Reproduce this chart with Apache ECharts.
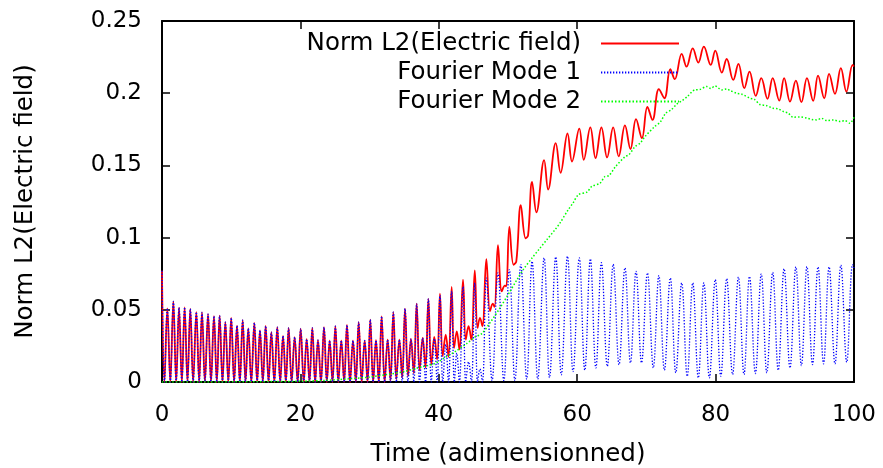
<!DOCTYPE html>
<html>
<head>
<meta charset="utf-8">
<title>Norm L2(Electric field)</title>
<script src="https://cdn.jsdelivr.net/npm/echarts@6/dist/echarts.min.js"></script>
<style>
html, body { margin: 0; padding: 0; background: #fff; }
#chart { width: 883px; height: 468px; }
</style>
</head>
<body>
<div id="chart"></div>
<script>
// ticks of both axes
var timeTicks = [0, 20, 40, 60, 80, 100];
var normTicks = [0, 0.05, 0.1, 0.15, 0.2, 0.25];

// [time, value] (peaks and troughs)
var normL2 = [
  [0, 0.077], [0.35, 0], [0.77, 0.051], [1.2, 0], [1.64, 0.0559], [2.05, 0], [2.46, 0.0515], [2.87, 0],
  [3.27, 0.0517], [3.68, 0], [4.09, 0.0506], [4.5, 0], [4.96, 0.0484], [5.37, 0], [5.78, 0.0482], [6.2, 0],
  [6.65, 0.047], [7.08, 0], [7.51, 0.0456], [7.92, 0], [8.33, 0.046], [8.74, 0], [9.15, 0.0415], [9.58, 0],
  [10.0, 0.0444], [10.42, 0], [10.84, 0.039], [11.25, 0], [11.66, 0.0428], [12.07, 0], [12.47, 0.0371], [12.9, 0],
  [13.34, 0.041], [13.75, 0], [14.16, 0.0358], [14.57, 0], [14.98, 0.0388], [15.4, 0], [15.8, 0.0346], [16.23, 0],
  [16.66, 0.038], [17.08, 0], [17.49, 0.032], [17.9, 0], [18.3, 0.0375], [18.73, 0], [19.17, 0.0311], [19.6, 0],
  [20.04, 0.037], [20.48, 0], [20.91, 0.0297], [21.31, 0], [21.72, 0.0375], [22.13, 0], [22.54, 0.029], [22.97, 0],
  [23.41, 0.0379], [23.82, 0], [24.23, 0.0287], [24.64, 0], [25.05, 0.0386], [25.48, 0], [25.91, 0.0287], [26.32, 0],
  [26.73, 0.0395], [27.17, 0], [27.6, 0.0287], [28.01, 0], [28.42, 0.0414], [28.85, 0], [29.29, 0.0287], [29.7, 0],
  [30.1, 0.0432], [30.51, 0], [30.92, 0.0289], [31.33, 0], [31.74, 0.0455], [32.17, 0], [32.61, 0.0294], [33.02, 0.001],
  [33.43, 0.0483], [33.86, 0.002], [34.3, 0.0294], [34.71, 0.003], [35.12, 0.0508], [35.55, 0.004], [35.98, 0.0299], [36.39, 0.006],
  [36.8, 0.0543], [37.23, 0.008], [37.67, 0.0305], [38.08, 0.01], [38.49, 0.0575], [38.92, 0.012], [39.35, 0.0312], [39.76, 0.0156],
  [40.17, 0.0612], [40.56, 0.0179], [41.0, 0.0328], [41.4, 0.0174], [41.86, 0.0658], [42.2, 0.0236], [42.6, 0.0351], [42.97, 0.0225],
  [43.5, 0.0709], [43.9, 0.0294], [44.3, 0.0386], [44.7, 0.0294], [45.2, 0.0773], [45.6, 0.0375], [45.95, 0.0444], [46.3, 0.0386],
  [46.87, 0.085], [47.4, 0.049], [47.8, 0.0543], [48.05, 0.052], [48.55, 0.0947], [49.1, 0.0628], [49.55, 0.0668], [49.75, 0.0662],
  [50.2, 0.1075], [50.8, 0.0812], [51.2, 0.0835], [51.85, 0.1225], [52.55, 0.0995], [52.9, 0.1015], [53.48, 0.1386], [54.1, 0.1175],
  [55.22, 0.1537], [55.8, 0.1333], [56.9, 0.1654], [57.6, 0.1449], [58.6, 0.1721], [59.25, 0.1527], [60.3, 0.1755], [60.95, 0.1539],
  [61.9, 0.1763], [62.65, 0.155], [63.5, 0.1763], [64.32, 0.1555], [65.2, 0.1763], [66.0, 0.1562], [66.9, 0.1777], [67.7, 0.1613],
  [68.5, 0.182], [69.35, 0.1689], [70.15, 0.1905], [70.88, 0.1815], [71.8, 0.2028], [72.6, 0.1965], [73.45, 0.2166], [74.1, 0.2097],
  [75.1, 0.2272], [75.8, 0.2184], [76.7, 0.2311], [77.5, 0.2212], [78.3, 0.2322], [79.3, 0.2196], [79.95, 0.2295], [80.9, 0.2143],
  [81.6, 0.2237], [82.55, 0.2092], [83.3, 0.2203], [84.15, 0.2035], [84.9, 0.215], [85.8, 0.1981], [86.6, 0.2104], [87.5, 0.1961],
  [88.25, 0.2104], [89.2, 0.1949], [89.9, 0.2104], [90.75, 0.1942], [91.6, 0.2087], [92.4, 0.1938], [93.2, 0.2104], [94.1, 0.1947],
  [94.8, 0.2122], [95.7, 0.1965], [96.4, 0.2134], [97.25, 0.1995], [98.1, 0.2173], [98.9, 0.2011], [99.8, 0.2196], [100, 0.2185]
];

var fourierMode1 = [
  [0, 0.077], [0.35, 0], [0.77, 0.051], [1.2, 0], [1.64, 0.0559], [2.05, 0], [2.46, 0.0515], [2.87, 0],
  [3.27, 0.0517], [3.68, 0], [4.09, 0.0506], [4.5, 0], [4.96, 0.0484], [5.37, 0], [5.78, 0.0482], [6.2, 0],
  [6.65, 0.047], [7.08, 0], [7.51, 0.0456], [7.92, 0], [8.33, 0.046], [8.74, 0], [9.15, 0.0415], [9.58, 0],
  [10.0, 0.0444], [10.42, 0], [10.84, 0.039], [11.25, 0], [11.66, 0.0428], [12.07, 0], [12.47, 0.0371], [12.9, 0],
  [13.34, 0.041], [13.75, 0], [14.16, 0.0358], [14.57, 0], [14.98, 0.0388], [15.4, 0], [15.8, 0.0346], [16.23, 0],
  [16.66, 0.038], [17.08, 0], [17.49, 0.032], [17.9, 0], [18.3, 0.0375], [18.73, 0], [19.17, 0.0311], [19.6, 0],
  [20.04, 0.037], [20.48, 0], [20.91, 0.0297], [21.31, 0], [21.72, 0.0375], [22.13, 0], [22.54, 0.029], [22.97, 0],
  [23.41, 0.0379], [23.82, 0], [24.23, 0.0287], [24.64, 0], [25.05, 0.0386], [25.48, 0], [25.91, 0.0287], [26.32, 0],
  [26.73, 0.0395], [27.17, 0], [27.6, 0.0287], [28.01, 0], [28.42, 0.0414], [28.85, 0], [29.29, 0.0287], [29.7, 0],
  [30.1, 0.0432], [30.51, 0], [30.92, 0.0289], [31.33, 0], [31.74, 0.0455], [32.17, 0], [32.61, 0.0294], [33.02, 0],
  [33.43, 0.0483], [33.86, 0], [34.3, 0.0294], [34.71, 0], [35.12, 0.0508], [35.55, 0], [35.98, 0.0299], [36.39, 0],
  [36.8, 0.0543], [37.23, 0], [37.67, 0.0305], [38.08, 0], [38.49, 0.0575], [38.92, 0], [39.35, 0.030], [39.76, 0],
  [40.17, 0.060], [40.58, 0], [41.0, 0.026], [41.4, 0], [41.86, 0.063], [42.25, 0], [42.6, 0.02], [42.97, 0],
  [43.5, 0.066], [43.9, 0], [44.3, 0.014], [44.7, 0], [45.2, 0.0686], [45.6, 0], [45.95, 0.009], [46.3, 0],
  [46.87, 0.072], [47.7, 0.001], [48.55, 0.0755], [49.4, 0.001], [50.2, 0.0778], [51.0, 0.001], [51.85, 0.0813], [52.7, 0.002],
  [53.48, 0.0835], [54.3, 0.002], [55.22, 0.0859], [56.0, 0.003], [56.9, 0.0865], [57.7, 0.005], [58.6, 0.087], [59.4, 0.0072],
  [60.3, 0.0859], [61.1, 0.0082], [61.9, 0.0852], [62.7, 0.0098], [63.5, 0.0826], [64.35, 0.0109], [65.2, 0.0815], [66.05, 0.012],
  [66.9, 0.079], [67.7, 0.0133], [68.5, 0.0766], [69.3, 0.0133], [70.15, 0.0755], [71.0, 0.0098], [71.8, 0.0737], [72.6, 0.0082],
  [73.45, 0.072], [74.25, 0.0064], [75.1, 0.0686], [75.9, 0.004], [76.7, 0.0686], [77.5, 0.0029], [78.3, 0.0686], [79.1, 0.0029],
  [79.95, 0.0709], [80.75, 0.004], [81.6, 0.0716], [82.45, 0.0052], [83.3, 0.0726], [84.1, 0.0052], [84.9, 0.073], [85.75, 0.0059],
  [86.6, 0.0748], [87.4, 0.0064], [88.25, 0.0759], [89.05, 0.0082], [89.9, 0.0784], [90.75, 0.0098], [91.6, 0.0797], [92.4, 0.0114],
  [93.2, 0.0799], [94.0, 0.0121], [94.8, 0.0797], [95.6, 0.0126], [96.4, 0.0797], [97.25, 0.0126], [98.1, 0.0809], [98.95, 0.0137],
  [99.8, 0.0813], [100, 0.079]
];

var fourierMode2 = [
  [0, 0], [10, 0.0001], [16, 0.0003], [20, 0.0005], [24, 0.0012], [27, 0.0022], [30, 0.0034], [32.5, 0.0052],
  [35, 0.0072], [37.3, 0.0102], [39.4, 0.0128], [41.1, 0.0175], [42.5, 0.0215], [44, 0.0265], [45.2, 0.031], [46.2, 0.0335],
  [47.4, 0.041], [48.8, 0.051], [50.2, 0.062], [51.25, 0.0705], [52.3, 0.0785], [53.5, 0.086], [54.5, 0.092], [55.6, 0.0985],
  [56.8, 0.1055], [57.5, 0.11], [58.7, 0.1193], [59.4, 0.124], [60.2, 0.1298], [61.4, 0.1315], [62.1, 0.1354], [63.3, 0.1377],
  [64.0, 0.1423], [64.6, 0.143], [65.5, 0.1489], [66.9, 0.156], [67.5, 0.1575], [68.35, 0.163], [69.1, 0.1655], [69.8, 0.17],
  [71.2, 0.1769], [72.0, 0.18], [72.8, 0.1862], [73.6, 0.1885], [74.4, 0.1925], [75.2, 0.195], [75.9, 0.1976], [77.0, 0.2023],
  [77.7, 0.2025], [78.7, 0.2046], [79.3, 0.2033], [79.9, 0.205], [80.9, 0.2023], [81.6, 0.203], [82.1, 0.2018], [83.05, 0.2],
  [83.8, 0.1993], [85.0, 0.1965], [85.6, 0.1958], [86.4, 0.1922], [87.3, 0.1915], [88.3, 0.1896], [89.0, 0.1892], [89.8, 0.1873],
  [90.5, 0.1862], [91.2, 0.1834], [92.1, 0.1836], [93.2, 0.1827], [93.9, 0.1818], [94.6, 0.1815], [95.3, 0.1826], [96.1, 0.181],
  [97.0, 0.1815], [98.0, 0.1804], [98.7, 0.181], [99.4, 0.1792], [100, 0.1834]
];

var seriesNames = ['Norm L2(Electric field)', 'Fourier Mode 1', 'Fourier Mode 2'];
var seriesColors = ['#ff0000', '#0000ff', '#00ff00'];

var font = 'DejaVu Sans';

// gnuplot style frame: every side has a line and inward ticks
function frameAxis(pos, ticks, extra) {
  var ax = {
    type: 'value',
    position: pos,
    min: ticks[0],
    max: ticks[ticks.length - 1],
    interval: ticks[1] - ticks[0],
    axisLine: { show: true, onZero: false, lineStyle: { color: '#000', width: 2 } },
    axisTick: { show: true, inside: true, length: 8, lineStyle: { color: '#000', width: 1.5 } },
    axisLabel: { show: false },
    splitLine: { show: false }
  };
  for (var k in extra) ax[k] = extra[k];
  return ax;
}

function legendRow(i, top) {
  return {
    data: [seriesNames[i]],
    right: 203,
    top: top,
    padding: 0,
    align: 'right',
    itemWidth: 78,
    itemHeight: 12,
    selectedMode: false,
    itemStyle: { opacity: 0 },   // only the line sample, no marker
    textStyle: { fontFamily: font, fontSize: 24.5, color: '#000', padding: [0, 15, 0, 0] }
  };
}

var chart = echarts.init(document.getElementById('chart'));
var option = {
  animation: false,
  backgroundColor: '#fff',
  grid: { left: 162, right: 29, top: 21, bottom: 86, outerBoundsMode: 'none' },
  legend: [legendRow(0, 31), legendRow(1, 60), legendRow(2, 89)],
  xAxis: [
    frameAxis('bottom', timeTicks, {
      name: 'Time (adimensionned)',
      nameLocation: 'middle',
      nameGap: 60,
      nameTextStyle: { fontFamily: font, fontSize: 24.5, color: '#000' },
      axisLabel: { show: true, margin: 22, fontFamily: font, fontSize: 23, color: '#000' }
    }),
    frameAxis('top', timeTicks, {})
  ],
  yAxis: [
    frameAxis('left', normTicks, {
      name: 'Norm L2(Electric field)',
      nameLocation: 'middle',
      nameRotate: 90,
      nameGap: 124,
      nameTextStyle: { fontFamily: font, fontSize: 24.5, color: '#000' },
      axisLabel: { show: true, margin: 20, fontFamily: font, fontSize: 23, color: '#000' }
    }),
    frameAxis('right', normTicks, {})
  ],
  series: [
    {
      name: seriesNames[0],
      type: 'line',
      data: normL2,
      symbol: 'none',
      smooth: 0.4,
      itemStyle: { color: seriesColors[0] },
      lineStyle: { color: seriesColors[0], width: 1.8 }
    },
    {
      name: seriesNames[1],
      type: 'line',
      data: fourierMode1,
      symbol: 'none',
      smooth: 0.4,
      itemStyle: { color: seriesColors[1] },
      lineStyle: { color: seriesColors[1], width: 1.3, type: [1.3, 1.7] }
    },
    {
      name: seriesNames[2],
      type: 'line',
      data: fourierMode2,
      symbol: 'none',
      smooth: 0.3,
      itemStyle: { color: seriesColors[2] },
      lineStyle: { color: seriesColors[2], width: 1.5, type: [1.5, 2] }
    }
  ]
};
chart.setOption(option);
</script>
</body>
</html>
